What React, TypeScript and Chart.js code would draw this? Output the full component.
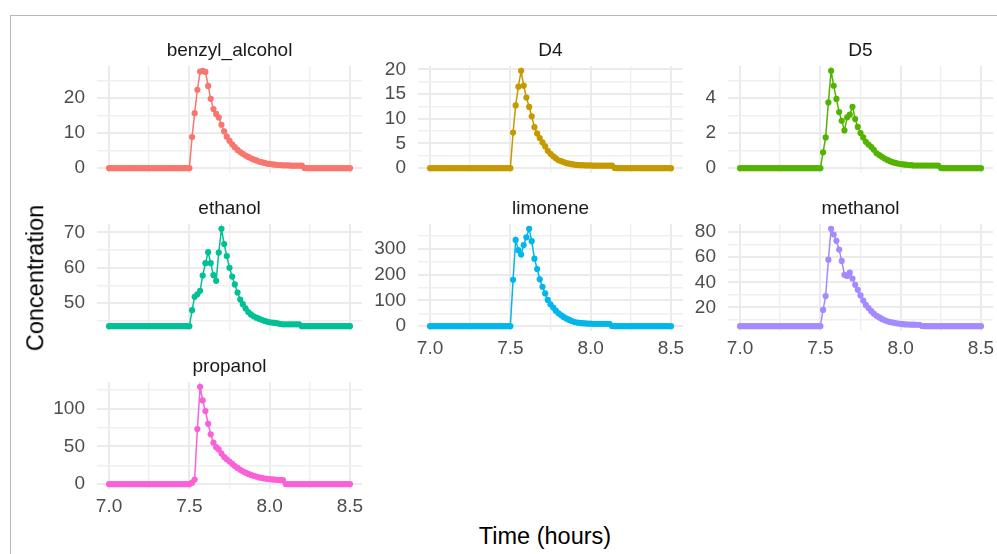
import React, { useEffect, useRef } from "react";
import { Chart, registerables } from "chart.js";

Chart.register(...registerables);

// Sampling times, one reading per minute (hours)
const TIME_H = [
  7.0, 7.017, 7.033, 7.05, 7.067, 7.083, 7.1, 7.117, 7.133, 7.15,
  7.167, 7.183, 7.2, 7.217, 7.233, 7.25, 7.267, 7.283, 7.3, 7.317,
  7.333, 7.35, 7.367, 7.383, 7.4, 7.417, 7.433, 7.45, 7.467, 7.483,
  7.5, 7.517, 7.533, 7.55, 7.567, 7.583, 7.6, 7.617, 7.633, 7.65,
  7.667, 7.683, 7.7, 7.717, 7.733, 7.75, 7.767, 7.783, 7.8, 7.817,
  7.833, 7.85, 7.867, 7.883, 7.9, 7.917, 7.933, 7.95, 7.967, 7.983,
  8.0, 8.017, 8.033, 8.05, 8.067, 8.083, 8.1, 8.117, 8.133, 8.15,
  8.167, 8.183, 8.2, 8.217, 8.233, 8.25, 8.267, 8.283, 8.3, 8.317,
  8.333, 8.35, 8.367, 8.383, 8.4, 8.417, 8.433, 8.45, 8.467, 8.483,
  8.5,
];

const BENZYL_ALCOHOL = [
  0, 0, 0, 0, 0, 0, 0, 0, 0, 0,
  0, 0, 0, 0, 0, 0, 0, 0, 0, 0,
  0, 0, 0, 0, 0, 0, 0, 0, 0, 0,
  0, 8.9, 15.7, 22.4, 27.6, 27.8, 27.5, 23.5, 19.8, 16.9,
  15.5, 14.5, 12.4, 10.5, 9.0, 7.8, 6.8, 6.0, 5.2, 4.6,
  4.1, 3.6, 3.2, 2.8, 2.5, 2.2, 1.9, 1.7, 1.5, 1.3,
  1.2, 1.1, 1.0, 0.9, 0.9, 0.8, 0.8, 0.8, 0.7, 0.7,
  0.7, 0.7, 0.7, 0.05, 0, 0, 0, 0, 0, 0,
  0, 0, 0, 0, 0, 0, 0, 0, 0, 0,
  0,
];

const D4 = [
  0, 0, 0, 0, 0, 0, 0, 0, 0, 0,
  0, 0, 0, 0, 0, 0, 0, 0, 0, 0,
  0, 0, 0, 0, 0, 0, 0, 0, 0, 0,
  0, 7.2, 12.7, 16.5, 19.7, 16.7, 14.3, 12.4, 10.5, 8.3,
  7.0, 6.1, 5.2, 4.4, 3.5, 2.9, 2.4, 2.0, 1.6, 1.4,
  1.2, 1.0, 0.9, 0.8, 0.7, 0.65, 0.6, 0.6, 0.55, 0.55,
  0.55, 0.5, 0.5, 0.5, 0.5, 0.5, 0.5, 0.5, 0.5, 0.05,
  0, 0, 0, 0, 0, 0, 0, 0, 0, 0,
  0, 0, 0, 0, 0, 0, 0, 0, 0, 0,
  0,
];

const D5 = [
  0, 0, 0, 0, 0, 0, 0, 0, 0, 0,
  0, 0, 0, 0, 0, 0, 0, 0, 0, 0,
  0, 0, 0, 0, 0, 0, 0, 0, 0, 0,
  0, 0.9, 1.75, 3.75, 5.55, 4.7, 3.95, 3.2, 2.7, 2.15,
  2.9, 3.05, 3.5, 2.8, 2.35, 2.0, 1.75, 1.5, 1.35, 1.2,
  1.05, 0.85, 0.75, 0.65, 0.55, 0.47, 0.4, 0.34, 0.3, 0.26,
  0.23, 0.21, 0.2, 0.18, 0.17, 0.15, 0.15, 0.15, 0.15, 0.15,
  0.15, 0.15, 0.15, 0.15, 0.15, 0.02, 0, 0, 0, 0,
  0, 0, 0, 0, 0, 0, 0, 0, 0, 0,
  0,
];

const ETHANOL = [
  43.5, 43.5, 43.5, 43.5, 43.5, 43.5, 43.5, 43.5, 43.5, 43.5,
  43.5, 43.5, 43.5, 43.5, 43.5, 43.5, 43.5, 43.5, 43.5, 43.5,
  43.5, 43.5, 43.5, 43.5, 43.5, 43.5, 43.5, 43.5, 43.5, 43.5,
  43.5, 48.0, 51.8, 52.5, 53.5, 57.8, 61.3, 64.4, 61.3, 57.9,
  56.3, 64.3, 71.0, 66.7, 63.3, 60.0, 57.5, 55.3, 53.0, 51.0,
  49.7, 48.5, 47.5, 46.8, 46.3, 45.9, 45.6, 45.3, 45.0, 44.8,
  44.6, 44.5, 44.4, 44.3, 44.1, 44.0, 44.0, 44.0, 44.0, 44.0,
  44.0, 44.0, 43.5, 43.5, 43.5, 43.5, 43.5, 43.5, 43.5, 43.5,
  43.5, 43.5, 43.5, 43.5, 43.5, 43.5, 43.5, 43.5, 43.5, 43.5,
  43.5,
];

const LIMONENE = [
  0, 0, 0, 0, 0, 0, 0, 0, 0, 0,
  0, 0, 0, 0, 0, 0, 0, 0, 0, 0,
  0, 0, 0, 0, 0, 0, 0, 0, 0, 0,
  0, 180, 335, 295, 278, 315, 345, 378, 330, 262,
  222, 182, 153, 127, 102, 85, 72, 60, 50, 42,
  35, 29, 24, 20, 16, 14, 12.5, 11.5, 10.5, 10,
  9.5, 9, 9, 9, 9, 9, 9, 9, 0.5, 0,
  0, 0, 0, 0, 0, 0, 0, 0, 0, 0,
  0, 0, 0, 0, 0, 0, 0, 0, 0, 0,
  0,
];

const METHANOL = [
  5.1, 5.1, 5.1, 5.1, 5.1, 5.1, 5.1, 5.1, 5.1, 5.1,
  5.1, 5.1, 5.1, 5.1, 5.1, 5.1, 5.1, 5.1, 5.1, 5.1,
  5.1, 5.1, 5.1, 5.1, 5.1, 5.1, 5.1, 5.1, 5.1, 5.1,
  5.1, 18, 29, 58, 82.5, 78, 73, 66, 57, 46,
  45, 47.6, 43, 38, 34, 29.5, 25.5, 22, 19.5, 17,
  15, 13.3, 12, 10.8, 9.8, 9, 8.4, 7.9, 7.5, 7.2,
  6.9, 6.7, 6.5, 6.4, 6.3, 6.3, 6.2, 6.2, 5.2, 5.1,
  5.1, 5.1, 5.1, 5.1, 5.1, 5.1, 5.1, 5.1, 5.1, 5.1,
  5.1, 5.1, 5.1, 5.1, 5.1, 5.1, 5.1, 5.1, 5.1, 5.1,
  5.1,
];

const PROPANOL = [
  0, 0, 0, 0, 0, 0, 0, 0, 0, 0,
  0, 0, 0, 0, 0, 0, 0, 0, 0, 0,
  0, 0, 0, 0, 0, 0, 0, 0, 0, 0,
  0, 2, 6, 73, 129, 111, 97, 80, 66, 55,
  49, 46, 40.5, 36, 33, 30, 27, 24, 21.5, 19,
  17, 15.2, 13.6, 12.2, 11, 10, 9, 8.2, 7.5, 7,
  6.6, 6.2, 5.9, 5.6, 5.4, 5.2, 0.2, 0, 0, 0,
  0, 0, 0, 0, 0, 0, 0, 0, 0, 0,
  0, 0, 0, 0, 0, 0, 0, 0, 0, 0,
  0,
];

// Axis breaks
const X_TICKS = [7.0, 7.5, 8.0, 8.5];
const Y_TICKS_BENZYL = [0, 10, 20];
const Y_TICKS_D4 = [0, 5, 10, 15, 20];
const Y_TICKS_D5 = [0, 2, 4];
const Y_TICKS_ETHANOL = [50, 60, 70];
const Y_TICKS_LIMONENE = [0, 100, 200, 300];
const Y_TICKS_METHANOL = [20, 40, 60, 80];
const Y_TICKS_PROPANOL = [0, 50, 100];

const COMPOUNDS = ["benzyl_alcohol", "D4", "D5", "ethanol", "limonene", "methanol", "propanol"];
const HUES = ["#F8766D", "#C49A00", "#53B400", "#00C094", "#00B6EB", "#A58AFF", "#FB61D7"];

const FONT = "'Liberation Sans', Arial, Helvetica, sans-serif";
const TICK_SIZE = 19;

// Facet grid geometry (plot-area boxes in page pixels)
const COL_LEFT = [97, 418, 728];
const ROW_TOP = [66, 224, 382];
const PLOT_W = 265;
const PLOT_H = 107;
const Y_AXIS_W = 50;
const TITLE_PAD_TOP = 4;
const TITLE_PAD_BOTTOM = 4.2;
const TITLE_H = TITLE_PAD_TOP + TICK_SIZE * 1.2 + TITLE_PAD_BOTTOM;
const RIGHT_PAD = 16;
const X_AXIS_H = 40;
const BOTTOM_PAD = 30;

const GRID_MAJOR = "#EBEBEB";
const GRID_MINOR = "#EFEFEF";

type PanelSpec = {
  name: string;
  values: number[];
  color: string;
  col: number;
  row: number;
  yBreaks: number[];
  showX: boolean;
};

const SERIES = [BENZYL_ALCOHOL, D4, D5, ETHANOL, LIMONENE, METHANOL, PROPANOL];
const Y_BREAKS = [
  Y_TICKS_BENZYL, Y_TICKS_D4, Y_TICKS_D5, Y_TICKS_ETHANOL,
  Y_TICKS_LIMONENE, Y_TICKS_METHANOL, Y_TICKS_PROPANOL,
];

const PANELS: PanelSpec[] = COMPOUNDS.map((name, i) => ({
  name,
  values: SERIES[i],
  color: HUES[i],
  col: i % 3,
  row: Math.floor(i / 3),
  yBreaks: Y_BREAKS[i],
  showX: i >= 4,
}));

// Continuous range with a 5% expansion on each side
function expandRange(vals: number[]): [number, number] {
  const lo = Math.min(...vals);
  const hi = Math.max(...vals);
  const pad = (hi - lo) * 0.05;
  return [lo - pad, hi + pad];
}

// Major breaks plus minor breaks halfway between them, kept inside the range
function gridValues(major: number[], lo: number, hi: number): number[] {
  const step = major[1] - major[0];
  const out: number[] = [];
  major.forEach((v) => {
    out.push(v - step / 2, v);
  });
  out.push(major[major.length - 1] + step / 2);
  return out.filter((v) => v >= lo - 1e-9 && v <= hi + 1e-9).sort((a, b) => a - b);
}

function isIn(list: number[], v: number): boolean {
  return list.some((m) => Math.abs(m - v) < 1e-9);
}

function Panel({ spec }: { spec: PanelSpec }) {
  const ref = useRef<HTMLCanvasElement | null>(null);

  const left = COL_LEFT[spec.col] - Y_AXIS_W;
  const top = ROW_TOP[spec.row] - TITLE_H;
  const width = Y_AXIS_W + PLOT_W + RIGHT_PAD;
  const height = TITLE_H + PLOT_H + (spec.showX ? X_AXIS_H : BOTTOM_PAD);

  useEffect(() => {
    if (!ref.current) return;
    const [xMin, xMax] = expandRange(TIME_H);
    const [yMin, yMax] = expandRange(spec.values);
    const xGrid = gridValues(X_TICKS, xMin, xMax);
    const yGrid = gridValues(spec.yBreaks, yMin, yMax);
    const tickFont = { family: FONT, size: TICK_SIZE };

    const chart = new Chart(ref.current, {
      type: "line",
      data: {
        datasets: [
          {
            data: TIME_H.map((t, i) => ({ x: t, y: spec.values[i] })),
            borderColor: spec.color,
            backgroundColor: spec.color,
            borderWidth: 1.5,
            pointRadius: 3.1,
            pointHoverRadius: 3.1,
            pointBorderWidth: 0,
            pointBackgroundColor: spec.color,
            tension: 0,
          },
        ],
      },
      options: {
        animation: false,
        responsive: false,
        maintainAspectRatio: false,
        events: [],
        layout: {
          padding: { left: 0, top: 0, right: RIGHT_PAD, bottom: spec.showX ? 0 : BOTTOM_PAD },
        },
        plugins: {
          legend: { display: false },
          tooltip: { enabled: false },
          title: {
            display: true,
            text: spec.name,
            fullSize: false,
            color: "#1A1A1A",
            font: { family: FONT, size: TICK_SIZE, weight: "normal" },
            padding: { top: TITLE_PAD_TOP, bottom: TITLE_PAD_BOTTOM },
          },
        },
        scales: {
          x: {
            type: "linear",
            min: xMin,
            max: xMax,
            afterBuildTicks: (scale: any) => {
              scale.ticks = xGrid.map((v) => ({ value: v }));
            },
            afterFit: (scale: any) => {
              scale.height = spec.showX ? X_AXIS_H : 0;
            },
            ticks: {
              display: spec.showX,
              autoSkip: false,
              maxRotation: 0,
              padding: 6,
              color: "#4D4D4D",
              font: tickFont,
              callback: (v: any) => (isIn(X_TICKS, Number(v)) ? Number(v).toFixed(1) : ""),
            },
            grid: {
              drawTicks: false,
              color: (ctx: any) => (isIn(X_TICKS, ctx.tick?.value) ? GRID_MAJOR : GRID_MINOR),
              lineWidth: (ctx: any) => (isIn(X_TICKS, ctx.tick?.value) ? 2 : 1.4),
            },
            border: { display: false },
          },
          y: {
            type: "linear",
            min: yMin,
            max: yMax,
            afterBuildTicks: (scale: any) => {
              scale.ticks = yGrid.map((v) => ({ value: v }));
            },
            afterFit: (scale: any) => {
              scale.width = Y_AXIS_W;
            },
            ticks: {
              autoSkip: false,
              padding: 12,
              color: "#4D4D4D",
              font: tickFont,
              callback: (v: any) => (isIn(spec.yBreaks, Number(v)) ? String(v) : ""),
            },
            grid: {
              drawTicks: false,
              color: (ctx: any) => (isIn(spec.yBreaks, ctx.tick?.value) ? GRID_MAJOR : GRID_MINOR),
              lineWidth: (ctx: any) => (isIn(spec.yBreaks, ctx.tick?.value) ? 2 : 1.4),
            },
            border: { display: false },
          },
        },
      } as any,
    });
    return () => chart.destroy();
  }, [spec]);

  return (
    <canvas
      ref={ref}
      width={width}
      height={Math.round(height)}
      style={{
        position: "absolute",
        left,
        top,
        width,
        height: Math.round(height),
      }}
    />
  );
}

export default function App() {
  return (
    <div
      style={{
        position: "absolute",
        left: 0,
        top: 0,
        width: 997,
        height: 554,
        overflow: "hidden",
        background: "#FFFFFF",
        fontFamily: FONT,
      }}
    >
      <div
        style={{
          position: "absolute",
          left: 10,
          top: 15,
          width: 987,
          height: 539,
          borderTop: "1px solid #B8B8B8",
          borderLeft: "1px solid #B8B8B8",
        }}
      />
      {PANELS.map((p) => (
        <Panel key={p.name} spec={p} />
      ))}
      <div
        style={{
          position: "absolute",
          left: 36,
          top: 278,
          transform: "translate(-50%, -50%) rotate(-90deg)",
          fontSize: 23.5,
          lineHeight: 1,
          color: "#000000",
          whiteSpace: "nowrap",
        }}
      >
        Concentration
      </div>
      <div
        style={{
          position: "absolute",
          left: 545,
          top: 537,
          transform: "translate(-50%, -50%)",
          fontSize: 23.5,
          lineHeight: 1,
          color: "#000000",
          whiteSpace: "nowrap",
        }}
      >
        Time (hours)
      </div>
    </div>
  );
}
